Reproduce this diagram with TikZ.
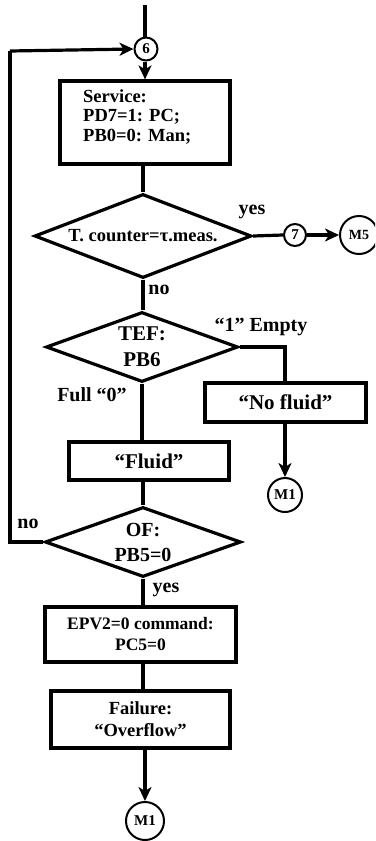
\documentclass[tikz,border=0pt]{standalone}
\usepackage{fontspec}
\setmainfont{Liberation Serif}
\usetikzlibrary{shapes.geometric,arrows.meta}
\tikzset{
  ln/.style={line width=3.2pt},
  arr/.style={ln,-{Stealth[length=14pt,width=13pt,inset=4pt]}},
  boxnode/.style={draw,line width=3.2pt,inner sep=0pt,font=\bfseries,align=center},
  dec/.style={draw,diamond,line width=3.2pt,inner sep=0pt,font=\bfseries,align=center},
  conn/.style={draw,circle,line width=2pt,inner sep=0pt,font=\bfseries},
  lbl/.style={font=\bfseries\fontsize{20}{22}\selectfont,inner sep=0pt}
}
\begin{document}
\begin{tikzpicture}[x=1pt,y=-1pt]
\useasboundingbox (0,0) rectangle (375,841);
\clip (0,0) rectangle (375,841);
\node[conn,minimum size=23pt,font=\bfseries\fontsize{15}{15}\selectfont] (c6) at (146,49) {6};
\node[boxnode,minimum width=170pt,minimum height=83pt] (srv) at (145,122.5) {};
\node[font=\bfseries\fontsize{18.5}{19.5}\selectfont,align=left,anchor=west,inner sep=0pt] (srvt) at (83,117) {Service:\\PD7=1: PC;\\PB0=0: Man;};
\node[dec,aspect=2.58,minimum width=217pt,minimum height=84pt,font=\bfseries\fontsize{18.5}{19}\selectfont] (d1) at (143,236) {T. counter=τ.meas.};
\node[conn,minimum size=22pt,font=\bfseries\fontsize{15}{15}\selectfont] (c7) at (295,235) {7};
\node[conn,minimum size=38pt,font=\bfseries\fontsize{14}{14}\selectfont] (m5) at (359,235) {M5};
\node[dec,aspect=2.74,minimum width=192pt,minimum height=70pt,font=\bfseries\fontsize{21}{26}\selectfont] (d2) at (142,347) {TEF:\\PB6};
\node[boxnode,minimum width=161pt,minimum height=39pt,font=\bfseries\fontsize{21}{22}\selectfont] (nf) at (285.5,402.5) {“No fluid”};
\node[conn,minimum size=34pt,font=\bfseries\fontsize{15}{15}\selectfont] (m1a) at (285,495) {M1};
\node[boxnode,minimum width=160pt,minimum height=38pt,font=\bfseries\fontsize{21}{22}\selectfont] (fl) at (149,461) {“Fluid”};
\node[dec,aspect=2.8,minimum width=196pt,minimum height=70pt,font=\bfseries\fontsize{20}{25}\selectfont] (d3) at (143,542) {OF:\\PB5=0};
\node[boxnode,minimum width=191pt,minimum height=55pt,font=\bfseries\fontsize{17.5}{21}\selectfont] (epv) at (140.5,634.5) {EPV2=0 command:\\PC5=0};
\node[boxnode,minimum width=179pt,minimum height=57pt,font=\bfseries\fontsize{18.5}{22}\selectfont] (fail) at (140.5,719.5) {Failure:\\“Overflow”};
\node[conn,minimum size=38pt,font=\bfseries\fontsize{15}{15}\selectfont] (m1b) at (145,821) {M1};
% labels
\node[lbl] (l1) at (252,212) {yes};
\node[lbl] (l2) at (159,290) {no};
\node[lbl] (l3) at (261,327) {“1” Empty};
\node[lbl] (l4) at (92,395) {Full “0”};
\node[lbl] (l5) at (28,524) {no};
\node[lbl] (l6) at (166,590) {yes};
% free ends
\coordinate (top) at (145,5);
\coordinate (lb) at (10,542);
\coordinate (lt) at (10,51);
\coordinate (rb) at (285,347);
% edges
\draw[ln] (top) -- (top |- c6.north);
\draw[arr] (c6.south -| 145,0) -- (srv.north -| 145,0);
\draw[ln] (srv.south -| d1) -- (d1.north);
\draw[ln] (d1.east) -- (c7.west);
\draw[arr] (c7.east) -- (m5.west);
\draw[ln] (d1.south) -- (d1.south |- d2.north);
\draw[ln] (d2.east) -- (rb) -- (rb |- nf.north);
\draw[arr] (nf.south -| m1a) -- (m1a.north);
\draw[ln] (d2.south) -- (d2.south |- fl.north);
\draw[ln] (fl.south -| d3) -- (d3.north);
\draw[ln] (d3.west) -- (lb) -- (lt);
\draw[arr] (lt) -- (c6.west);
\draw[ln] (d3.south) -- (d3.south |- epv.north);
\draw[ln] (epv.south -| d3) -- (fail.north -| d3);
\draw[arr] (fail.south -| m1b) -- (m1b.north);
\end{tikzpicture}
\end{document}
